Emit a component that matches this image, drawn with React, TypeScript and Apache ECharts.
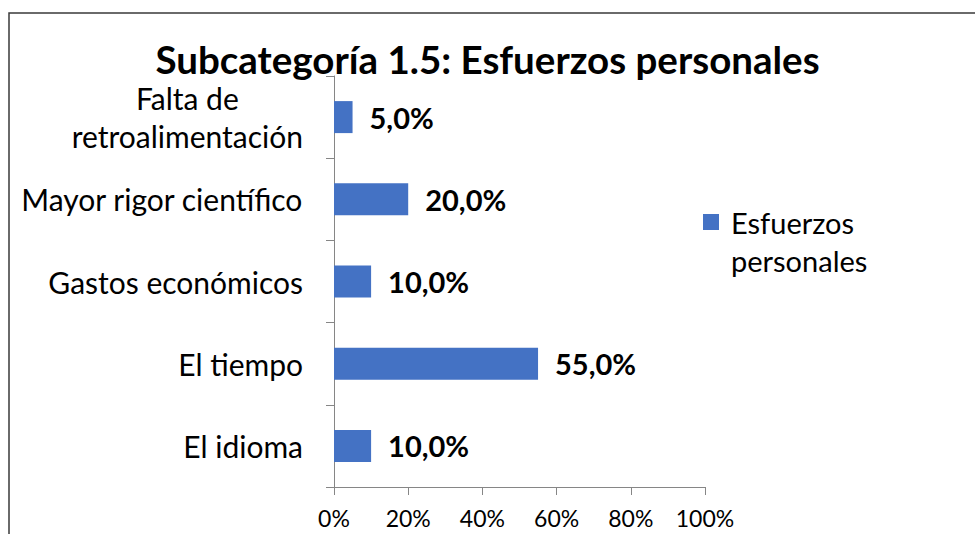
import React, { useEffect, useRef } from "react";
import * as echarts from "echarts";

const TITLE = "Subcategoría 1.5: Esfuerzos personales";
const SERIES_NAME = "Esfuerzos personales";
const LEGEND_TEXT = " \nEsfuerzos\npersonales";
const categories = [
  "Falta de\nretroalimentación",
  "Mayor rigor científico",
  "Gastos económicos",
  "El tiempo",
  "El idioma",
];
const values = [5, 20, 10, 55, 10];
const xMin = 0;
const xMax = 100;
const xStep = 20;

const FONT = "Lato, 'Open Sans', sans-serif";

export default function App() {
  const ref = useRef<HTMLDivElement>(null);
  useEffect(() => {
    if (!ref.current) return;
    const chart = echarts.init(ref.current, null, { renderer: "svg" });
    chart.setOption({
      animation: false,
      backgroundColor: "#ffffff",
      textStyle: { fontFamily: FONT },
      title: {
        text: TITLE,
        left: "center",
        top: 39,
        padding: 0,
        textStyle: { fontFamily: FONT, fontSize: 38.5, fontWeight: "bold", color: "#000" },
      },
      graphic: [
        {
          type: "rect",
          shape: { x: 9, y: 13, width: 1200, height: 800 },
          style: { fill: "none", stroke: "#3a3a3a", lineWidth: 1.5 },
          silent: true,
          z: 100,
        },
      ],
      legend: {
        show: true,
        left: 698,
        top: 160,
        orient: "vertical",
        itemWidth: 30,
        itemHeight: 16,
        icon: "path://M0,0 L10,0 L10,10 L0,10 Z",
        formatter: () => LEGEND_TEXT,
        textStyle: {
          fontFamily: FONT,
          fontSize: 29,
          color: "#000",
          lineHeight: 38,
        },
        data: [SERIES_NAME],
      },
      grid: { left: 334, right: 270, top: 76, bottom: 47, containLabel: false },
      xAxis: {
        type: "value",
        min: xMin,
        max: xMax,
        interval: xStep,
        splitLine: { show: false },
        axisLine: { show: true, lineStyle: { color: "#868686", width: 1 } },
        axisTick: { show: true, length: 8, lineStyle: { color: "#868686" } },
        axisLabel: {
          formatter: "{value}%",
          fontFamily: FONT,
          fontSize: 23,
          lineHeight: 23,
          color: "#000",
          margin: 19,
        },
      },
      yAxis: {
        type: "category",
        inverse: true,
        data: categories,
        axisLine: { show: true, lineStyle: { color: "#868686", width: 1 } },
        axisTick: { show: true, length: 8, alignWithLabel: false, lineStyle: { color: "#868686" } },
        axisLabel: {
          margin: 31,
          fontFamily: FONT,
          fontSize: 30,
          color: "#000",
          lineHeight: 38,
          formatter: (v: string) =>
            v
              .split("\n")
              .map((s) => "{c|" + s + "}")
              .join("\n"),
          rich: {
            c: { fontFamily: FONT, fontSize: 30, color: "#000", lineHeight: 38, align: "center" },
          },
        },
      },
      series: [
        {
          name: SERIES_NAME,
          type: "bar",
          data: values,
          barWidth: 32,
          itemStyle: { color: "#4472C4" },
          label: {
            show: true,
            position: "right",
            distance: 17,
            fontFamily: FONT,
            fontSize: 29,
            fontWeight: "bold",
            color: "#000",
            formatter: (p: any) => p.value.toFixed(1).replace(".", ",") + "%",
          },
        },
      ],
    });
    return () => chart.dispose();
  }, []);
  return (
    <div
      ref={ref}
      style={{ position: "fixed", left: 0, top: 0, width: 975, height: 534 }}
    />
  );
}
